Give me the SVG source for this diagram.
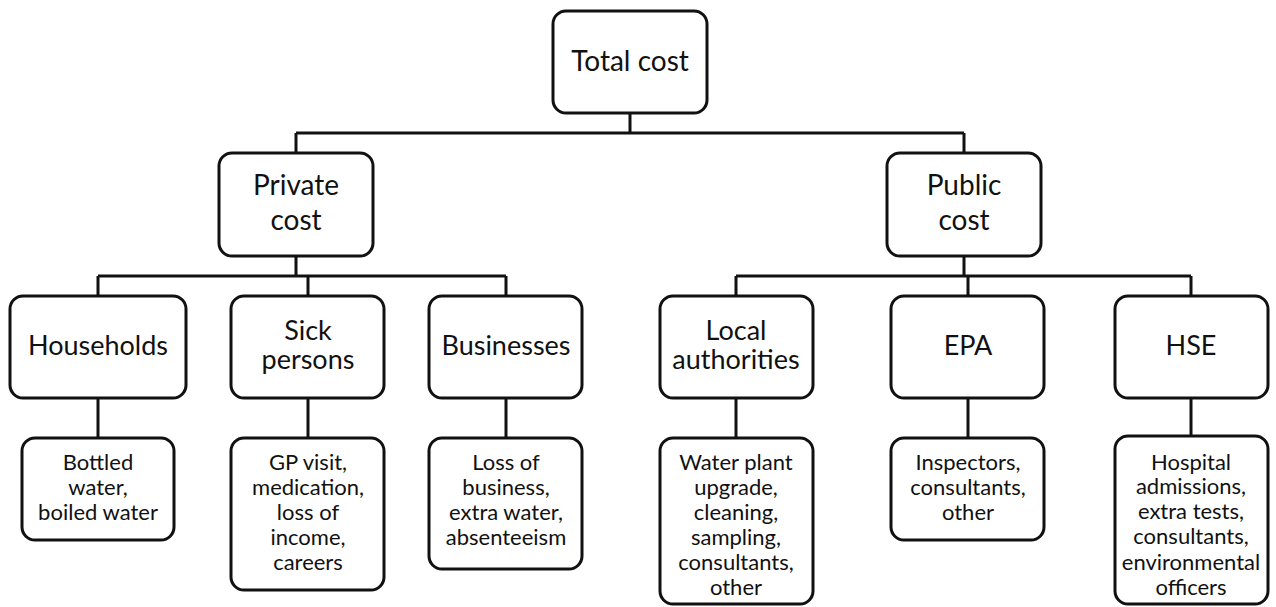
<svg xmlns="http://www.w3.org/2000/svg" width="1276" height="607" viewBox="0 0 1276 607">
<style>
.box{fill:#fff;stroke:#111;stroke-width:3}
.ln{fill:none;stroke:#111;stroke-width:3}
text{font-family:Lato,"Open Sans",sans-serif;fill:#111;text-anchor:middle}
.big{font-size:27px}
.top{font-size:28px}
.sm{font-size:22px}
</style>
<rect width="1276" height="607" fill="#fff"/>
<g id="connectors">
<path class="ln" d="M630 113V133M296 133H964M296 133V153M964 133V153"/>
<path class="ln" d="M296 256V276M98 276H506M98 276V296M308 276V296M506 276V296"/>
<path class="ln" d="M964 256V276M736 276H1191M736 276V296M968 276V296M1191 276V296"/>
<path class="ln" d="M98 398V438M308 398V438M506 398V438M736 398V438M968 398V438M1191 398V436"/>
</g>
<g id="total"><rect class="box" x="553" y="11" width="154" height="102" rx="13"/><text class="top" x="630" y="71">Total cost</text></g>
<g id="private"><rect class="box" x="219" y="153" width="154" height="103" rx="13"/><text class="top" x="296" y="195">Private</text><text class="top" x="296" y="230">cost</text></g>
<g id="public"><rect class="box" x="887" y="153" width="154" height="103" rx="13"/><text class="top" x="964" y="195">Public</text><text class="top" x="964" y="230">cost</text></g>
<g id="households"><rect class="box" x="10" y="296" width="176" height="102" rx="13"/><text class="big" x="98" y="355">Households</text></g>
<g id="sick"><rect class="box" x="231" y="296" width="153" height="102" rx="13"/><text class="big" x="308" y="340">Sick</text><text class="big" x="308" y="369">persons</text></g>
<g id="businesses"><rect class="box" x="429" y="296" width="153" height="102" rx="13"/><text class="big" x="506" y="355">Businesses</text></g>
<g id="local"><rect class="box" x="660" y="296" width="153" height="102" rx="13"/><text class="big" x="736" y="340">Local</text><text class="big" x="736" y="369">authorities</text></g>
<g id="epa"><rect class="box" x="891" y="296" width="153" height="102" rx="13"/><text class="big" x="968" y="355">EPA</text></g>
<g id="hse"><rect class="box" x="1115" y="296" width="153" height="102" rx="13"/><text class="big" x="1191" y="355">HSE</text></g>
<g id="leaf-households"><rect class="box" x="22" y="438" width="152" height="102" rx="13"/><text class="sm" x="98" y="470">Bottled</text><text class="sm" x="98" y="495">water,</text><text class="sm" x="98" y="520">boiled water</text></g>
<g id="leaf-sick"><rect class="box" x="231" y="438" width="153" height="152" rx="13"/><text class="sm" x="308" y="470">GP visit,</text><text class="sm" x="308" y="495">medication,</text><text class="sm" x="308" y="520">loss of</text><text class="sm" x="308" y="545">income,</text><text class="sm" x="308" y="570">careers</text></g>
<g id="leaf-businesses"><rect class="box" x="429" y="438" width="153" height="131" rx="13"/><text class="sm" x="506" y="470">Loss of</text><text class="sm" x="506" y="495">business,</text><text class="sm" x="506" y="520">extra water,</text><text class="sm" x="506" y="545">absenteeism</text></g>
<g id="leaf-local"><rect class="box" x="660" y="438" width="153" height="166" rx="13"/><text class="sm" x="736" y="470">Water plant</text><text class="sm" x="736" y="495">upgrade,</text><text class="sm" x="736" y="520">cleaning,</text><text class="sm" x="736" y="545">sampling,</text><text class="sm" x="736" y="570">consultants,</text><text class="sm" x="736" y="595">other</text></g>
<g id="leaf-epa"><rect class="box" x="891" y="438" width="153" height="102" rx="13"/><text class="sm" x="968" y="470">Inspectors,</text><text class="sm" x="968" y="495">consultants,</text><text class="sm" x="968" y="520">other</text></g>
<g id="leaf-hse"><rect class="box" x="1115" y="436" width="153" height="168" rx="13"/><text class="sm" x="1191" y="470">Hospital</text><text class="sm" x="1191" y="494">admissions,</text><text class="sm" x="1191" y="519">extra tests,</text><text class="sm" x="1191" y="544">consultants,</text><text class="sm" x="1191" y="570">environmental</text><text class="sm" x="1191" y="595">officers</text></g>
</svg>
